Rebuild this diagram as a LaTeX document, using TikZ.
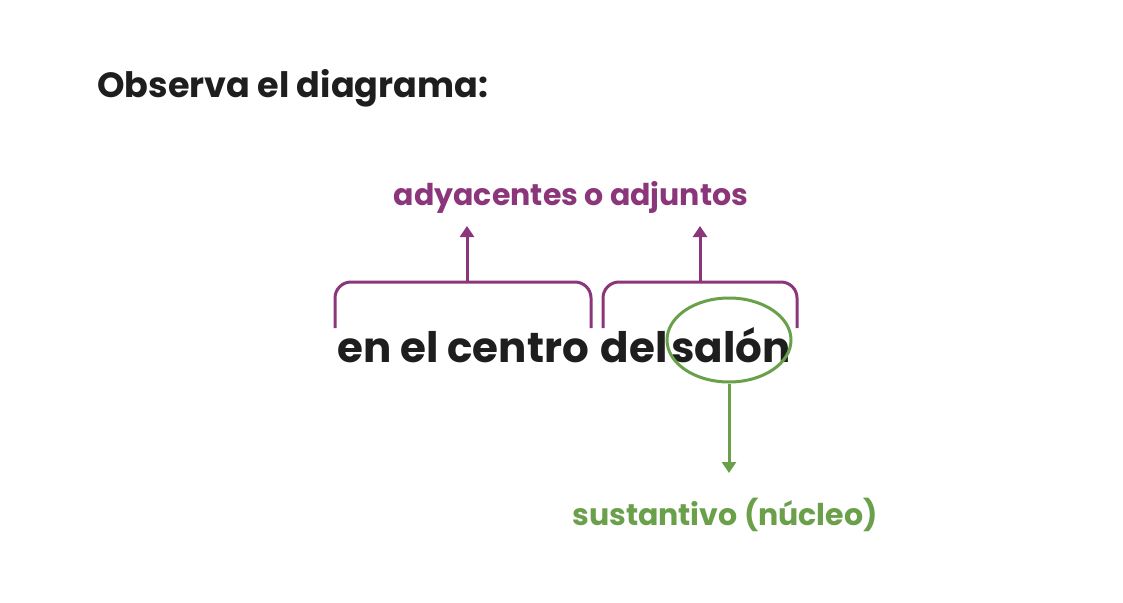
\documentclass[tikz,border=0pt]{standalone}
\usepackage{fontspec}
\setmainfont{Poppins}
\usetikzlibrary{arrows.meta,shapes.geometric}
\definecolor{lila}{RGB}{139,54,122}
\definecolor{verde}{RGB}{106,160,74}
\definecolor{tinta}{RGB}{30,30,30}
\tikzset{
  title/.style={font=\fontsize{35}{40}\selectfont\bfseries, text=tinta, inner sep=0pt},
  words/.style={font=\fontsize{42}{50}\selectfont\bfseries, text=tinta, inner sep=0pt},
  lab/.style={font=\fontsize{30}{34}\selectfont\bfseries, inner sep=0pt},
  brk/.style={draw=lila, line width=3pt, rounded corners=16pt},
  up/.style={draw=lila, line width=3pt, -{Triangle[width=14pt,length=11pt]}},
  down/.style={draw=verde, line width=3pt, -{Triangle[width=14pt,length=11pt]}},
}
\begin{document}
\begin{tikzpicture}[x=1pt,y=-1pt]
\useasboundingbox (0,0) rectangle (1123,602);
\fill[white] (0,0) rectangle (1123,602);
\node[title, anchor=base west] (t) at (97,97) {Observa el diagrama:};
\node[words, anchor=base] (w1) at (463,362) {en el centro};
\node[words, anchor=base] (w2) at (634,362) {del};
\node[words, anchor=base] (w3) at (731,362) {salón};
\node[lab, text=lila] (adj) at (571,197) {adyacentes o adjuntos};
\node[lab, text=verde] (sus) at (725,515) {sustantivo (núcleo)};
\node[draw=verde, line width=3pt, ellipse, minimum width=124pt, minimum height=84pt] (ov) at (729,340) {};
\coordinate (b1) at (467,282);
\coordinate (b2) at (700,282);
\draw[brk] (335,328) -- (335,282) -- (591,282) -- (591,328);
\draw[brk] (603,328) -- (603,282) -- (797,282) -- (797,328);
\draw[up] (b1) -- (467,226);
\draw[up] (b2) -- (700,226);
\draw[down] (ov.south) -- (729,473);
\end{tikzpicture}
\end{document}
